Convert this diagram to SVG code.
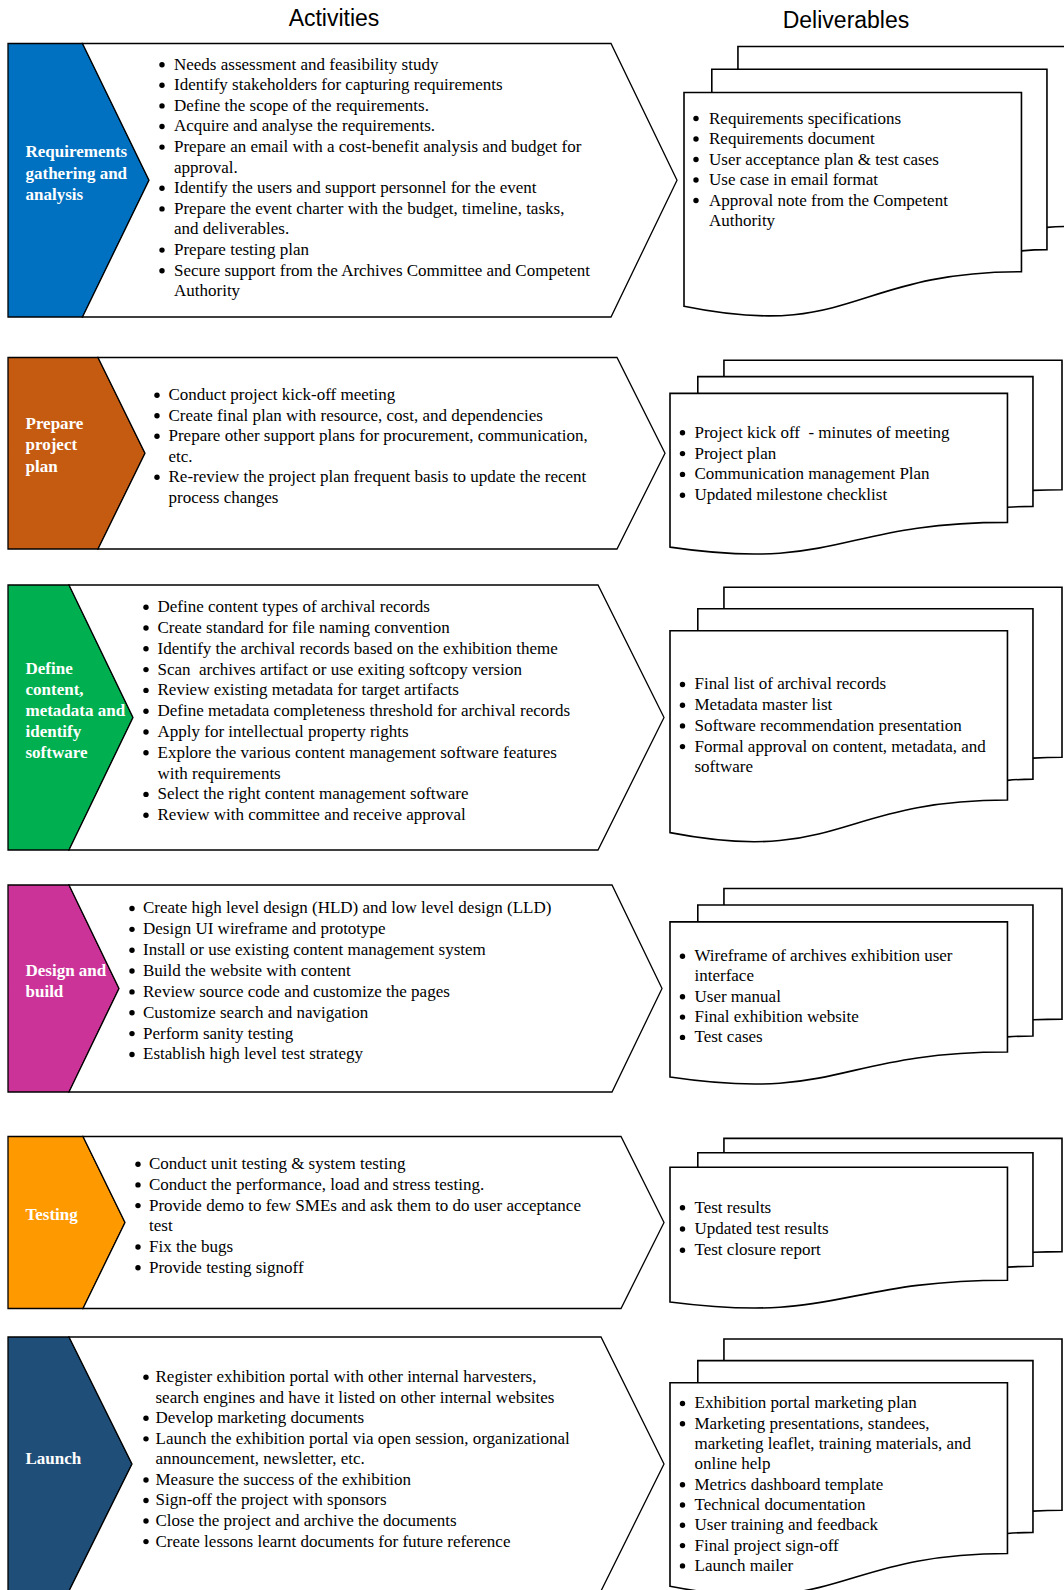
<svg xmlns="http://www.w3.org/2000/svg" width="1064" height="1590" viewBox="0 0 1064 1590">
<style>
.bg{fill:#fff}
.hdr{font-family:"Liberation Sans",Arial,sans-serif;font-size:23px;fill:#000}
.t{font-family:"Liberation Serif","Times New Roman",serif;font-size:17px;fill:#000}
.lbl{font-family:"Liberation Serif","Times New Roman",serif;font-size:17px;font-weight:bold;fill:#fff}
.ol{stroke:#000;stroke-width:1.3;stroke-linejoin:miter}
.wh{fill:#fff}
.doc{fill:#fff;stroke:#000;stroke-width:1.6;stroke-linejoin:miter}
.dot{fill:#000}
</style>
<rect class="bg" x="0" y="0" width="1064" height="1590"/>
<text class="hdr" x="334" y="25.5" text-anchor="middle">Activities</text>
<text class="hdr" x="846" y="27.5" text-anchor="middle">Deliverables</text>

<!-- Section 1 -->
<g id="act-1">
<polygon class="ol" fill="#0070C0" points="8,43.5 82.5,43.5 149,180.25 82.5,317 8,317"/>
<polygon class="ol wh" points="82.5,43.5 611,43.5 677,180.25 611,317 82.5,317 149,180.25"/>
<g transform="translate(0,1.2)">
<text class="lbl" x="25.5" y="156">Requirements</text>
<text class="lbl" x="25.5" y="177.5">gathering and</text>
<text class="lbl" x="25.5" y="199">analysis</text>
<g class="dot">
<circle cx="162" cy="63.5" r="2.7"/><circle cx="162" cy="84.1" r="2.7"/><circle cx="162" cy="104.7" r="2.7"/><circle cx="162" cy="125.3" r="2.7"/><circle cx="162" cy="145.9" r="2.7"/><circle cx="162" cy="187.1" r="2.7"/><circle cx="162" cy="207.7" r="2.7"/><circle cx="162" cy="248.9" r="2.7"/><circle cx="162" cy="269.5" r="2.7"/>
</g>
<text class="t" x="174" y="68.5">Needs assessment and feasibility study</text>
<text class="t" x="174" y="89.1">Identify stakeholders for capturing requirements</text>
<text class="t" x="174" y="109.7">Define the scope of the requirements.</text>
<text class="t" x="174" y="130.3">Acquire and analyse the requirements.</text>
<text class="t" x="174" y="150.9">Prepare an email with a cost-benefit analysis and budget for</text>
<text class="t" x="174" y="171.5">approval.</text>
<text class="t" x="174" y="192.1">Identify the users and support personnel for the event</text>
<text class="t" x="174" y="212.7">Prepare the event charter with the budget, timeline, tasks,</text>
<text class="t" x="174" y="233.3">and deliverables.</text>
<text class="t" x="174" y="253.9">Prepare testing plan</text>
<text class="t" x="174" y="274.5">Secure support from the Archives Committee and Competent</text>
<text class="t" x="174" y="295.1">Authority</text>
</g>
</g>
<g id="del-1">
<path class="doc" d="M737.94,69.19 V46.5 H1076 V226.4 C1061.48,226.4 1046.96,227.34 1046.96,227.34"/>
<path class="doc" d="M711.8,92.44 V69.19 H1046.96 V249.65 C1034.22,249.65 1021.46,250.9 1021.46,250.9"/>
<path class="doc" d="M684,306.28 C852.74,340.78 852.74,271.77 1021.46,271.77 V92.44 H684 Z"/>
<g transform="translate(0,1)">
<g class="dot">
<circle cx="696" cy="117.5" r="2.7"/><circle cx="696" cy="138" r="2.7"/><circle cx="696" cy="158.5" r="2.7"/><circle cx="696" cy="179" r="2.7"/><circle cx="696" cy="199.5" r="2.7"/>
</g>
<text class="t" x="709" y="122.5">Requirements specifications</text>
<text class="t" x="709" y="143">Requirements document</text>
<text class="t" x="709" y="163.5">User acceptance plan &amp; test cases</text>
<text class="t" x="709" y="184">Use case in email format</text>
<text class="t" x="709" y="204.5">Approval note from the Competent</text>
<text class="t" x="709" y="225">Authority</text>
</g>
</g>

<!-- Section 2 -->
<g id="act-2">
<polygon class="ol" fill="#C55A11" points="8,357.5 98,357.5 145,453.25 98,549 8,549"/>
<polygon class="ol wh" points="98,357.5 617,357.5 665,453.25 617,549 98,549 145,453.25"/>
<g transform="translate(0,1.2)">
<text class="lbl" x="25.5" y="428">Prepare</text>
<text class="lbl" x="25.5" y="449.3">project</text>
<text class="lbl" x="25.5" y="470.6">plan</text>
<g class="dot">
<circle cx="157" cy="394" r="2.7"/><circle cx="157" cy="414.5" r="2.7"/><circle cx="157" cy="435" r="2.7"/><circle cx="157" cy="476" r="2.7"/>
</g>
<text class="t" x="168.5" y="399">Conduct project kick-off meeting</text>
<text class="t" x="168.5" y="419.5">Create final plan with resource, cost, and dependencies</text>
<text class="t" x="168.5" y="440">Prepare other support plans for procurement, communication,</text>
<text class="t" x="168.5" y="460.5">etc.</text>
<text class="t" x="168.5" y="481">Re-review the project plan frequent basis to update the recent</text>
<text class="t" x="168.5" y="501.5">process changes</text>
</g>
</g>
<g id="del-2">
<path class="doc" d="M723.94,376.62 V360.3 H1062 V489.7 C1047.48,489.7 1032.96,490.37 1032.96,490.37"/>
<path class="doc" d="M697.8,393.34 V376.62 H1032.96 V506.42 C1020.22,506.42 1007.46,507.32 1007.46,507.32"/>
<path class="doc" d="M670,547.15 C838.74,571.96 838.74,522.33 1007.46,522.33 V393.34 H670 Z"/>
<g transform="translate(0,1.2)">
<g class="dot">
<circle cx="682.5" cy="431.6" r="2.7"/><circle cx="682.5" cy="452.4" r="2.7"/><circle cx="682.5" cy="473.2" r="2.7"/><circle cx="682.5" cy="494" r="2.7"/>
</g>
<text class="t" x="694.5" y="436.6" xml:space="preserve">Project kick off  - minutes of meeting</text>
<text class="t" x="694.5" y="457.4">Project plan</text>
<text class="t" x="694.5" y="478.2">Communication management Plan</text>
<text class="t" x="694.5" y="499">Updated milestone checklist</text>
</g>
</g>

<!-- Section 3 -->
<g id="act-3">
<polygon class="ol" fill="#00B050" points="8,585 69,585 133,717.5 69,850 8,850"/>
<polygon class="ol wh" points="69,585 598,585 664,717.5 598,850 69,850 133,717.5"/>
<g transform="translate(0,1.2)">
<text class="lbl" x="25.5" y="672.4">Define</text>
<text class="lbl" x="25.5" y="693.7">content,</text>
<text class="lbl" x="25.5" y="715">metadata and</text>
<text class="lbl" x="25.5" y="736.3">identify</text>
<text class="lbl" x="25.5" y="756.6">software</text>
<g class="dot">
<circle cx="146" cy="606" r="2.7"/><circle cx="146" cy="626.8" r="2.7"/><circle cx="146" cy="647.6" r="2.7"/><circle cx="146" cy="668.4" r="2.7"/><circle cx="146" cy="689.2" r="2.7"/><circle cx="146" cy="710" r="2.7"/><circle cx="146" cy="730.8" r="2.7"/><circle cx="146" cy="751.6" r="2.7"/><circle cx="146" cy="793.2" r="2.7"/><circle cx="146" cy="814" r="2.7"/>
</g>
<text class="t" x="157.5" y="611">Define content types of archival records</text>
<text class="t" x="157.5" y="631.8">Create standard for file naming convention</text>
<text class="t" x="157.5" y="652.6">Identify the archival records based on the exhibition theme</text>
<text class="t" x="157.5" y="673.4" xml:space="preserve">Scan  archives artifact or use exiting softcopy version</text>
<text class="t" x="157.5" y="694.2">Review existing metadata for target artifacts</text>
<text class="t" x="157.5" y="715">Define metadata completeness threshold for archival records</text>
<text class="t" x="157.5" y="735.8">Apply for intellectual property rights</text>
<text class="t" x="157.5" y="756.6">Explore the various content management software features</text>
<text class="t" x="157.5" y="777.4">with requirements</text>
<text class="t" x="157.5" y="798.2">Select the right content management software</text>
<text class="t" x="157.5" y="819">Review with committee and receive approval</text>
</g>
</g>
<g id="del-3">
<path class="doc" d="M723.94,608.73 V587.3 H1062 V757.21 C1047.48,757.21 1032.96,758.09 1032.96,758.09"/>
<path class="doc" d="M697.8,630.69 V608.73 H1032.96 V779.16 C1020.22,779.16 1007.46,780.35 1007.46,780.35"/>
<path class="doc" d="M670,832.64 C838.74,865.23 838.74,800.06 1007.46,800.06 V630.69 H670 Z"/>
<g transform="translate(0,1.2)">
<g class="dot">
<circle cx="682.5" cy="683.3" r="2.7"/><circle cx="682.5" cy="704" r="2.7"/><circle cx="682.5" cy="724.7" r="2.7"/><circle cx="682.5" cy="745.4" r="2.7"/>
</g>
<text class="t" x="694.5" y="688.3">Final list of archival records</text>
<text class="t" x="694.5" y="709">Metadata master list</text>
<text class="t" x="694.5" y="729.7">Software recommendation presentation</text>
<text class="t" x="694.5" y="750.4">Formal approval on content, metadata, and</text>
<text class="t" x="694.5" y="771.1">software</text>
</g>
</g>

<!-- Section 4 -->
<g id="act-4">
<polygon class="ol" fill="#CC3399" points="8,885 69,885 119,988.5 69,1092 8,1092"/>
<polygon class="ol wh" points="69,885 612,885 662,988.5 612,1092 69,1092 119,988.5"/>
<g transform="translate(0,1.2)">
<text class="lbl" x="25.5" y="974.7">Design and</text>
<text class="lbl" x="25.5" y="996">build</text>
<g class="dot">
<circle cx="132" cy="907.3" r="2.7"/><circle cx="132" cy="928.15" r="2.7"/><circle cx="132" cy="949" r="2.7"/><circle cx="132" cy="969.85" r="2.7"/><circle cx="132" cy="990.7" r="2.7"/><circle cx="132" cy="1011.55" r="2.7"/><circle cx="132" cy="1032.4" r="2.7"/><circle cx="132" cy="1053.25" r="2.7"/>
</g>
<text class="t" x="143" y="912.3">Create high level design (HLD) and low level design (LLD)</text>
<text class="t" x="143" y="933.15">Design UI wireframe and prototype</text>
<text class="t" x="143" y="954">Install or use existing content management system</text>
<text class="t" x="143" y="974.85">Build the website with content</text>
<text class="t" x="143" y="995.7">Review source code and customize the pages</text>
<text class="t" x="143" y="1016.55">Customize search and navigation</text>
<text class="t" x="143" y="1037.4">Perform sanity testing</text>
<text class="t" x="143" y="1058.25">Establish high level test strategy</text>
</g>
</g>
<g id="del-4">
<path class="doc" d="M723.94,904.97 V888.5 H1062 V1019.09 C1047.48,1019.09 1032.96,1019.77 1032.96,1019.77"/>
<path class="doc" d="M697.8,921.85 V904.97 H1032.96 V1035.97 C1020.22,1035.97 1007.46,1036.88 1007.46,1036.88"/>
<path class="doc" d="M670,1077.08 C838.74,1102.12 838.74,1052.03 1007.46,1052.03 V921.85 H670 Z"/>
<g transform="translate(0,1.2)">
<g class="dot">
<circle cx="682.5" cy="955" r="2.7"/><circle cx="682.5" cy="995.6" r="2.7"/><circle cx="682.5" cy="1015.9" r="2.7"/><circle cx="682.5" cy="1036.2" r="2.7"/>
</g>
<text class="t" x="694.5" y="960">Wireframe of archives exhibition user</text>
<text class="t" x="694.5" y="980.3">interface</text>
<text class="t" x="694.5" y="1000.6">User manual</text>
<text class="t" x="694.5" y="1020.9">Final exhibition website</text>
<text class="t" x="694.5" y="1041.2">Test cases</text>
</g>
</g>

<!-- Section 5 -->
<g id="act-5">
<polygon class="ol" fill="#FF9900" points="8,1136.5 83,1136.5 125,1222.5 83,1308.5 8,1308.5"/>
<polygon class="ol wh" points="83,1136.5 621,1136.5 664,1222.5 621,1308.5 83,1308.5 125,1222.5"/>
<g transform="translate(0,1.2)">
<text class="lbl" x="25.5" y="1219">Testing</text>
<g class="dot">
<circle cx="138" cy="1163" r="2.7"/><circle cx="138" cy="1183.7" r="2.7"/><circle cx="138" cy="1204.4" r="2.7"/><circle cx="138" cy="1245.8" r="2.7"/><circle cx="138" cy="1266.5" r="2.7"/>
</g>
<text class="t" x="149" y="1168">Conduct unit testing &amp; system testing</text>
<text class="t" x="149" y="1188.7">Conduct the performance, load and stress testing.</text>
<text class="t" x="149" y="1209.4">Provide demo to few SMEs and ask them to do user acceptance</text>
<text class="t" x="149" y="1230.1">test</text>
<text class="t" x="149" y="1250.8">Fix the bugs</text>
<text class="t" x="149" y="1271.5">Provide testing signoff</text>
</g>
</g>
<g id="del-5">
<path class="doc" d="M723.94,1152.69 V1138.4 H1062 V1251.67 C1047.48,1251.67 1032.96,1252.26 1032.96,1252.26"/>
<path class="doc" d="M697.8,1167.32 V1152.69 H1032.96 V1266.31 C1020.22,1266.31 1007.46,1267.1 1007.46,1267.1"/>
<path class="doc" d="M670,1301.96 C838.74,1323.68 838.74,1280.24 1007.46,1280.24 V1167.32 H670 Z"/>
<g transform="translate(0,1.2)">
<g class="dot">
<circle cx="682.5" cy="1206.6" r="2.7"/><circle cx="682.5" cy="1227.8" r="2.7"/><circle cx="682.5" cy="1249" r="2.7"/>
</g>
<text class="t" x="694.5" y="1211.6">Test results</text>
<text class="t" x="694.5" y="1232.8">Updated test results</text>
<text class="t" x="694.5" y="1254">Test closure report</text>
</g>
</g>

<!-- Section 6 -->
<g id="act-6">
<polygon class="ol" fill="#1F4E79" points="8,1337 69,1337 132,1464 69,1591 8,1591"/>
<polygon class="ol wh" points="69,1337 601,1337 664,1464 601,1591 69,1591 132,1464"/>
<g transform="translate(0,1.2)">
<text class="lbl" x="25.5" y="1462.6">Launch</text>
<g class="dot">
<circle cx="146" cy="1376" r="2.7"/><circle cx="146" cy="1417.1" r="2.7"/><circle cx="146" cy="1437.65" r="2.7"/><circle cx="146" cy="1478.75" r="2.7"/><circle cx="146" cy="1499.3" r="2.7"/><circle cx="146" cy="1519.85" r="2.7"/><circle cx="146" cy="1540.4" r="2.7"/>
</g>
<text class="t" x="155.5" y="1381">Register exhibition portal with other internal harvesters,</text>
<text class="t" x="155.5" y="1401.55">search engines and have it listed on other internal websites</text>
<text class="t" x="155.5" y="1422.1">Develop marketing documents</text>
<text class="t" x="155.5" y="1442.65">Launch the exhibition portal via open session, organizational</text>
<text class="t" x="155.5" y="1463.2">announcement, newsletter, etc.</text>
<text class="t" x="155.5" y="1483.75">Measure the success of the exhibition</text>
<text class="t" x="155.5" y="1504.3">Sign-off the project with sponsors</text>
<text class="t" x="155.5" y="1524.85">Close the project and archive the documents</text>
<text class="t" x="155.5" y="1545.4">Create lessons learnt documents for future reference</text>
</g>
</g>
<g id="del-6">
<path class="doc" d="M723.94,1360.6 V1339 H1062 V1510.24 C1047.48,1510.24 1032.96,1511.13 1032.96,1511.13"/>
<path class="doc" d="M697.8,1382.73 V1360.6 H1032.96 V1532.37 C1020.22,1532.37 1007.46,1533.56 1007.46,1533.56"/>
<path class="doc" d="M670,1586.27 C838.74,1619.11 838.74,1553.43 1007.46,1553.43 V1382.73 H670 Z"/>
<g transform="translate(0,1.2)">
<g class="dot">
<circle cx="682.5" cy="1402.3" r="2.7"/><circle cx="682.5" cy="1422.6" r="2.7"/><circle cx="682.5" cy="1483.5" r="2.7"/><circle cx="682.5" cy="1503.8" r="2.7"/><circle cx="682.5" cy="1524.1" r="2.7"/><circle cx="682.5" cy="1544.4" r="2.7"/><circle cx="682.5" cy="1564.7" r="2.7"/>
</g>
<text class="t" x="694.5" y="1407.3">Exhibition portal marketing plan</text>
<text class="t" x="694.5" y="1427.6">Marketing presentations, standees,</text>
<text class="t" x="694.5" y="1447.9">marketing leaflet, training materials, and</text>
<text class="t" x="694.5" y="1468.2">online help</text>
<text class="t" x="694.5" y="1488.5">Metrics dashboard template</text>
<text class="t" x="694.5" y="1508.8">Technical documentation</text>
<text class="t" x="694.5" y="1529.1">User training and feedback</text>
<text class="t" x="694.5" y="1549.4">Final project sign-off</text>
<text class="t" x="694.5" y="1569.7">Launch mailer</text>
</g>
</g>
</svg>
